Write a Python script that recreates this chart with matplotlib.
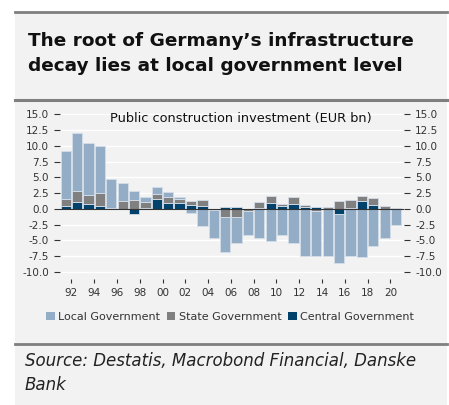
import numpy as np
import matplotlib.pyplot as plt
from matplotlib.patches import Rectangle, Patch
from matplotlib.lines import Line2D

# yearly contributions, EUR bn
years = list(range(1991, 2021))
local = [7.65, 9.3, 8.2, 7.4, 4.46, 2.8, 1.48, 0.75, 1.11, 0.85,
         0.3, -0.64, -2.75, -4.41, -5.45, -4.13, -3.9, -4.6, -5.14, -4.13,
         -5.4, -7.5, -7.2, -7.5, -7.84, -7.57, -7.68, -5.93, -4.66, -2.6]
state = [1.13, 1.7, 1.45, 2.08, 0.05, 1.3, 1.38, 1.05, 0.79, 1.0,
         0.7, 0.62, 0.9, -0.25, -1.38, -1.27, -0.3, 0.9, 1.17, 0.28,
         1.15, 0.26, -0.3, 0.27, 1.27, 1.33, 0.83, 1.06, 0.42, 0.0]
central = [0.42, 1.1, 0.75, 0.42, 0.15, -0.1, -0.9, 0.05, 1.54, 0.85,
           0.9, 0.58, 0.48, 0.0, 0.3, 0.3, 0.0, 0.1, 0.9, 0.42,
           0.75, 0.27, 0.27, 0.0, -0.85, 0.05, 1.27, 0.58, 0.0, 0.2]

series = [("Local Government", local, "#93adc7"),
          ("State Government", state, "#808080"),
          ("Central Government", central, "#00426b")]

bg = "#f2f2f2"
W, H = 449, 405
fig = plt.figure(figsize=(W / 100, H / 100), dpi=100)
fig.patch.set_facecolor("white")

# grey panel and separator lines
fig.patches.append(Rectangle((15 / W, 0), 432 / W, 1 - 12 / H,
                             transform=fig.transFigure, facecolor=bg,
                             edgecolor="none", zorder=-5))
for yy, lw in [(11.5, 2.0), (99.5, 2.2), (343.5, 2.0)]:
    fig.lines.append(Line2D([15 / W, 447 / W], [1 - yy / H, 1 - yy / H],
                            transform=fig.transFigure, color="#7f7f7f", lw=lw,
                            zorder=-4))

title_lines = ["The root of Germany\u2019s infrastructure",
               "decay lies at local government level"]
for i, t in enumerate(title_lines):
    fig.text(28 / W, 1 - (46 + 25 * i) / H, t, fontsize=13.3, fontweight="bold",
             color="#111111", va="baseline")

ax = fig.add_axes([60 / W, 1 - 279.3 / H, 344 / W, (279.3 - 111.2) / H])
ax.set_facecolor(bg)
ax.set_zorder(2)

x = np.array(years) + 0.5
pos_base = np.zeros(len(years))
neg_base = np.zeros(len(years))
# stack central nearest zero, then state, then local
for name, vals, col in reversed(series):
    v = np.array(vals)
    base = np.where(v >= 0, pos_base, neg_base)
    ax.bar(x, v, bottom=base, width=0.9, color=col, edgecolor="#d5dee8",
           linewidth=0.6, zorder=3)
    pos_base += np.where(v > 0, v, 0)
    neg_base += np.where(v < 0, v, 0)

ax.axhline(0, color="#333333", lw=0.8, zorder=4)
ax.set_xlim(1991.0, 2021.2)
ax.set_ylim(-11.2, 15.5)
yt = np.arange(-10, 15.1, 2.5)
ax.set_yticks(yt)
ax.set_yticklabels([f"{t:.1f}" for t in yt])
ax.grid(axis="y", color="white", lw=1.0, zorder=1)
ax.set_axisbelow(True)
ax.tick_params(axis="y", which="both", left=True, right=True, labelleft=True,
               labelright=True, length=4, width=0.8, color="#333333",
               labelsize=7.5, labelcolor="#333333", pad=4)
xt = list(range(1992, 2021, 2))
ax.set_xticks(xt)
ax.set_xticklabels([f"{t % 100:02d}" for t in xt])
ax.tick_params(axis="x", length=3, width=0.8, color="#333333",
               labelsize=7.5, labelcolor="#333333", pad=3)
for s in ax.spines.values():
    s.set_visible(False)

ax.text(0.525, 0.993, "Public construction investment (EUR bn)",
        transform=ax.transAxes, ha="center", va="top", fontsize=9.3,
        color="#111111")

handles = [Patch(facecolor=c, edgecolor="none", label=n) for n, v, c in series]
fig.legend(handles=handles, loc="center", bbox_to_anchor=(230 / W, 1 - 317 / H),
           ncol=3, frameon=False, fontsize=8, handlelength=0.8,
           handleheight=0.8, handletextpad=0.3, columnspacing=0.6,
           labelcolor="#333333")

source_lines = ["Source: Destatis, Macrobond Financial, Danske", "Bank"]
for i, t in enumerate(source_lines):
    fig.text(25 / W, 1 - (366 + 24 * i) / H, t, fontsize=12, style="italic",
             color="#222222", va="baseline")

fig.savefig("out.png", dpi=100, facecolor="white")
